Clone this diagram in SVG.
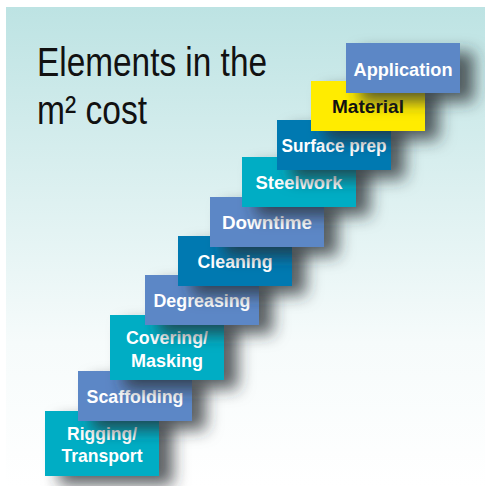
<svg xmlns="http://www.w3.org/2000/svg" width="485" height="486" viewBox="0 0 485 486">
<defs>
<linearGradient id="bg" x1="0" y1="0" x2="0" y2="1">
<stop offset="0" stop-color="#bde3e3"/>
<stop offset="0.7" stop-color="#f6fbfb"/>
<stop offset="1" stop-color="#ffffff"/>
</linearGradient>
<filter id="sh" x="-30%" y="-40%" width="180%" height="220%">
<feDropShadow dx="14" dy="9" stdDeviation="8" flood-color="#2a2f33" flood-opacity="0.75"/>
</filter>
</defs>
<style>
.box{filter:url(#sh)}
.b1{fill:#5b87c6}
.b2{fill:#0079b1}
.b3{fill:#00adc4}
.b4{fill:#ffec00}
.t{font-family:"Liberation Sans",Arial,sans-serif;font-weight:bold;font-size:19px;fill:#ffffff;text-anchor:middle}
.tk{fill:#111111}
.title{font-family:"Liberation Sans",Arial,sans-serif;font-size:40px;fill:#111111}
</style>
<rect x="6" y="7" width="479" height="479" fill="url(#bg)"/>
<g id="title">
<text class="title" x="37" y="76" textLength="230" lengthAdjust="spacingAndGlyphs">Elements in the</text>
<text class="title" x="37" y="124" textLength="110" lengthAdjust="spacingAndGlyphs">m² cost</text>
</g>
<g id="connectors"/>
<g id="rigging">
<rect class="box b3" x="45" y="411" width="114" height="65"/>
<text class="t" x="102" y="440" textLength="70" lengthAdjust="spacingAndGlyphs">Rigging/</text>
<text class="t" x="102" y="462" textLength="81" lengthAdjust="spacingAndGlyphs">Transport</text>
</g>
<g id="scaffolding">
<rect class="box b1" x="78" y="371" width="114" height="50"/>
<text class="t" x="135" y="403" textLength="97" lengthAdjust="spacingAndGlyphs">Scaffolding</text>
</g>
<g id="covering">
<rect class="box b3" x="110" y="315" width="114" height="65"/>
<text class="t" x="167" y="344" textLength="82" lengthAdjust="spacingAndGlyphs">Covering/</text>
<text class="t" x="167" y="367" textLength="72" lengthAdjust="spacingAndGlyphs">Masking</text>
</g>
<g id="degreasing">
<rect class="box b1" x="145" y="275" width="114" height="50"/>
<text class="t" x="202" y="307" textLength="97" lengthAdjust="spacingAndGlyphs">Degreasing</text>
</g>
<g id="cleaning">
<rect class="box b2" x="178" y="236" width="114" height="50"/>
<text class="t" x="235" y="268" textLength="75" lengthAdjust="spacingAndGlyphs">Cleaning</text>
</g>
<g id="downtime">
<rect class="box b1" x="210" y="197" width="114" height="50"/>
<text class="t" x="267" y="229" textLength="90" lengthAdjust="spacingAndGlyphs">Downtime</text>
</g>
<g id="steelwork">
<rect class="box b3" x="242" y="157" width="114" height="50"/>
<text class="t" x="299" y="189" textLength="87" lengthAdjust="spacingAndGlyphs">Steelwork</text>
</g>
<g id="surfaceprep">
<rect class="box b2" x="277" y="120" width="114" height="50"/>
<text class="t" x="334" y="152" textLength="105" lengthAdjust="spacingAndGlyphs">Surface prep</text>
</g>
<g id="material">
<rect class="box b4" x="311" y="81" width="114" height="50"/>
<text class="t tk" x="368" y="113" textLength="72" lengthAdjust="spacingAndGlyphs">Material</text>
</g>
<g id="application">
<rect class="box b1" x="346" y="43" width="114" height="50"/>
<text class="t" x="403" y="76" textLength="99" lengthAdjust="spacingAndGlyphs">Application</text>
</g>
</svg>
